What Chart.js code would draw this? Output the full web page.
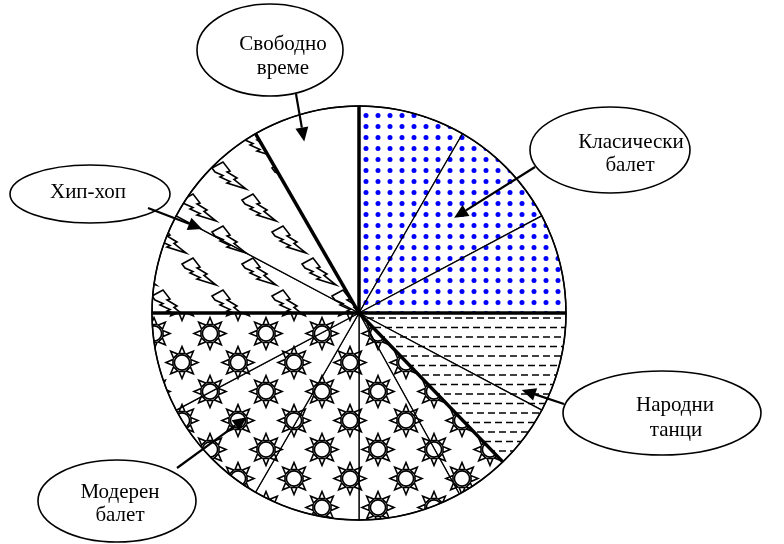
<!DOCTYPE html>
<html>
<head>
<meta charset="utf-8">
<script src="https://cdn.jsdelivr.net/npm/chart.js@4/dist/chart.umd.min.js"></script>
<style>
  html, body { margin: 0; padding: 0; background: #fff; }
  #wrap { width: 784px; height: 544px; }
</style>
</head>
<body>
<div id="wrap"><canvas id="chart" width="784" height="544"></canvas></div>
<script>
// Activity groups and their sub-shares (each group is split into thin-bordered parts)
const categories = ['Класически балет', 'Народни танци', 'Модерен балет', 'Хип-хоп', 'Свободно време'];
const classical = [30, 32, 28];
const folk = [28, 18];
const modern = [15, 29, 30, 32, 28];
const hiphop = [28, 32];
const freeTime = [30];

const groups = [classical, folk, modern, hiphop, freeTime];

// ---------- fill patterns ----------
function makeTile(w, h, draw) {
  const c = document.createElement('canvas');
  c.width = w; c.height = h;
  const g = c.getContext('2d');
  g.fillStyle = '#fff';
  g.fillRect(0, 0, w, h);
  draw(g, w, h);
  return g.createPattern(c, 'repeat');
}

function wrapped(w, h, fn) {
  for (const dx of [-w, 0, w]) for (const dy of [-h, 0, h]) fn(dx, dy);
}

const dotsPattern = makeTile(12, 11, g => {
  g.fillStyle = '#0000ff';
  g.beginPath();
  g.arc(6, 5.5, 2.5, 0, Math.PI * 2);
  g.fill();
});

const dashPattern = makeTile(22, 19, (g, w, h) => {
  g.strokeStyle = '#000';
  g.lineWidth = 1.5;
  const rows = [[4.5, 0], [14, 4]];
  for (const [y, off] of rows) {
    for (let x = off - 22; x < w; x += 11) {
      g.beginPath();
      g.moveTo(x, y);
      g.lineTo(x + 7, y);
      g.stroke();
    }
  }
});

function drawSun(g, cx, cy) {
  g.lineWidth = 1.6;
  g.strokeStyle = '#000';
  g.fillStyle = '#fff';
  for (let k = 0; k < 8; k++) {
    const a = k * Math.PI / 4;
    const ca = Math.cos(a), sa = Math.sin(a);
    const bx = cx + ca * 9, by = cy + sa * 9;
    g.beginPath();
    g.moveTo(bx - sa * 2.9, by + ca * 2.9);
    g.lineTo(cx + ca * 16, cy + sa * 16);
    g.lineTo(bx + sa * 2.9, by - ca * 2.9);
    g.closePath();
    g.fill();
    g.stroke();
  }
  g.beginPath();
  g.arc(cx, cy, 7.6, 0, Math.PI * 2);
  g.fill();
  g.stroke();
}

const sunPattern = makeTile(56, 58, (g, w, h) => {
  wrapped(w, h, (dx, dy) => {
    drawSun(g, 14 + dx, 14.5 + dy);
    drawSun(g, 42 + dx, 43.5 + dy);
  });
});

function drawBolt(g, x, y) {
  const pts = [[0, 6], [11, 0], [18, 9], [15, 10], [25, 16], [22, 17.5], [34, 27],
               [15, 21], [18, 19.5], [8, 15], [11, 13.5], [3, 10]];
  g.lineWidth = 1.6;
  g.strokeStyle = '#000';
  g.fillStyle = '#fff';
  g.lineJoin = 'miter';
  g.beginPath();
  pts.forEach(([px, py], i) => i ? g.lineTo(x + px, y + py) : g.moveTo(x + px, y + py));
  g.closePath();
  g.fill();
  g.stroke();
}

const boltPattern = makeTile(60, 64, (g, w, h) => {
  wrapped(w, h, (dx, dy) => {
    drawBolt(g, 2 + dx, 2 + dy);
    drawBolt(g, 32 + dx, 34 + dy);
  });
});

const groupFills = [dotsPattern, dashPattern, sunPattern, boltPattern, '#ffffff'];

// ---------- flatten data for the pie ----------
const values = [];
const fills = [];
const labels = [];
groups.forEach((parts, gi) => {
  parts.forEach((v, pi) => {
    values.push(v);
    fills.push(groupFills[gi]);
    labels.push(categories[gi] + ' ' + (pi + 1));
  });
});

// ---------- callouts ----------
// t: position inside the group's angular span, r: fraction of the radius
const callouts = [
  { ellipse: [610, 150, 80, 43], lines: [['Класически', 631, 142], ['балет', 630, 165]],
    from: [535, 167], t: 0.5, r: 0.65 },
  { ellipse: [662, 413, 99, 42], lines: [['Народни', 675, 405], ['танци', 676, 430]],
    from: [564, 404], t: 0.55, r: 0.87 },
  { ellipse: [117, 501, 79, 41], lines: [['Модерен', 120, 492], ['балет', 120, 515]],
    from: [177, 468], t: 0.68, r: 0.74 },
  { ellipse: [90, 194, 80, 29], lines: [['Хип-хоп', 88, 192]],
    from: [148, 208], t: 0.47, r: 0.86 },
  { ellipse: [270, 50, 73, 46], lines: [['Свободно', 283, 44], ['време', 283, 68]],
    from: [296, 94], t: 0.41, r: 0.87 }
];

const groupLinesPlugin = {
  id: 'groupLines',
  afterDatasetsDraw(chart) {
    const ctx = chart.ctx;
    const arcs = chart.getDatasetMeta(0).data;
    const { x, y, outerRadius } = arcs[0];
    ctx.save();
    ctx.strokeStyle = '#000';

    // thick separators between groups
    ctx.lineWidth = 3.5;
    let idx = 0;
    const spans = [];
    groups.forEach(parts => {
      const first = arcs[idx], last = arcs[idx + parts.length - 1];
      spans.push([first.startAngle, last.endAngle]);
      const a = first.startAngle;
      ctx.beginPath();
      ctx.moveTo(x, y);
      ctx.lineTo(x + Math.cos(a) * outerRadius, y + Math.sin(a) * outerRadius);
      ctx.stroke();
      idx += parts.length;
    });

    // outer rim
    ctx.lineWidth = 1.6;
    ctx.beginPath();
    ctx.arc(x, y, outerRadius, 0, Math.PI * 2);
    ctx.stroke();

    // callout ellipses with arrows
    ctx.font = '21px "Liberation Serif", "Times New Roman", serif';
    ctx.textAlign = 'center';
    ctx.textBaseline = 'middle';
    callouts.forEach((c, gi) => {
      const [cx, cy, rx, ry] = c.ellipse;
      ctx.lineWidth = 1.6;
      ctx.fillStyle = '#fff';
      ctx.beginPath();
      ctx.ellipse(cx, cy, rx, ry, 0, 0, Math.PI * 2);
      ctx.fill();
      ctx.stroke();
      ctx.fillStyle = '#000';
      c.lines.forEach(([txt, tx, ty]) => ctx.fillText(txt, tx, ty));

      const [a0, a1] = spans[gi];
      const a = a0 + c.t * (a1 - a0);
      const tipX = x + Math.cos(a) * outerRadius * c.r;
      const tipY = y + Math.sin(a) * outerRadius * c.r;
      const [fx, fy] = c.from;
      const ang = Math.atan2(tipY - fy, tipX - fx);
      const headLen = 14, headW = 6.5;
      const bx = tipX - Math.cos(ang) * headLen, by = tipY - Math.sin(ang) * headLen;
      ctx.lineWidth = 2.2;
      ctx.beginPath();
      ctx.moveTo(fx, fy);
      ctx.lineTo(bx, by);
      ctx.stroke();
      ctx.beginPath();
      ctx.moveTo(tipX, tipY);
      ctx.lineTo(bx - Math.sin(ang) * headW, by + Math.cos(ang) * headW);
      ctx.lineTo(bx + Math.sin(ang) * headW, by - Math.cos(ang) * headW);
      ctx.closePath();
      ctx.fill();
    });
    ctx.restore();
  }
};

new Chart(document.getElementById('chart'), {
  type: 'pie',
  data: {
    labels: labels,
    datasets: [{
      data: values,
      backgroundColor: fills,
      borderColor: '#000',
      borderWidth: 1.3,
      borderAlign: 'center'
    }]
  },
  options: {
    responsive: false,
    animation: false,
    radius: 207,
    layout: { padding: { left: 0, right: 66, top: 82, bottom: 0 } },
    plugins: {
      legend: { display: false },
      tooltip: { enabled: false }
    }
  },
  plugins: [groupLinesPlugin]
});
</script>
</body>
</html>
